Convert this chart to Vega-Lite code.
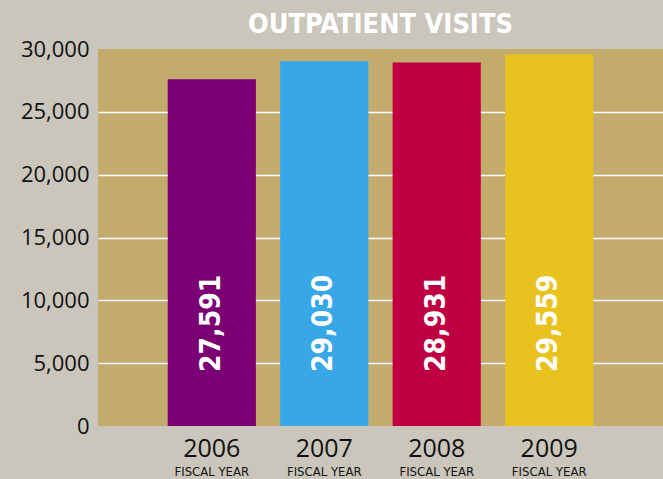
{
  "$schema": "https://vega.github.io/schema/vega-lite/v6.json",
  "width": 565,
  "height": 377,
  "autosize": {"type": "none"},
  "padding": {"left": 98, "top": 49, "right": 0, "bottom": 53},
  "background": "#cac6bb",
  "title": {
    "text": "OUTPATIENT VISITS",
    "font": "DejaVu Sans Condensed",
    "fontWeight": "bold",
    "fontSize": 27,
    "color": "#ffffff",
    "anchor": "middle",
    "frame": "group",
    "offset": -1
  },
  "config": {
    "view": {"fill": "#c3aa6d", "stroke": null}
  },
  "data": {
    "values": [
      {"year": "2006", "visits": 27591, "color": "#7a0074"},
      {"year": "2007", "visits": 29030, "color": "#38a7e7"},
      {"year": "2008", "visits": 28931, "color": "#be0042"},
      {"year": "2009", "visits": 29559, "color": "#e8c31f"}
    ]
  },
  "encoding": {
    "x": {
      "field": "year",
      "type": "nominal",
      "sort": null,
      "scale": {"paddingInner": 0.216, "paddingOuter": 0.62},
      "axis": {
        "title": null,
        "labelAngle": 0,
        "labelFont": "Open Sans",
        "labelFontSize": 25,
        "labelColor": "#111111",
        "labelBaseline": "top",
        "labelPadding": 10,
        "domain": false,
        "ticks": false
      }
    }
  },
  "layer": [
    {
      "mark": {"type": "bar"},
      "encoding": {
        "y": {
          "field": "visits",
          "type": "quantitative",
          "scale": {"domain": [0, 30000], "nice": false},
          "axis": {
            "title": null,
            "values": [0, 5000, 10000, 15000, 20000, 25000, 30000],
            "format": ",d",
            "labelFont": "Open Sans",
            "labelFontSize": 22,
            "labelColor": "#111111",
            "labelPadding": 9,
            "domain": false,
            "ticks": false,
            "grid": true,
            "gridColor": "#ffffff",
            "gridWidth": 1.5,
            "gridOpacity": {"condition": {"test": "datum.value == 0 || datum.value == 30000", "value": 0}, "value": 1}
          }
        },
        "color": {"field": "color", "type": "nominal", "scale": null}
      }
    },
    {
      "mark": {
        "type": "text",
        "angle": 270,
        "align": "left",
        "baseline": "middle",
        "font": "DejaVu Sans Condensed",
        "fontWeight": "bold",
        "fontSize": 28,
        "color": "#ffffff"
      },
      "encoding": {
        "y": {"datum": 4300, "type": "quantitative"},
        "text": {"field": "visits", "type": "quantitative", "format": ","}
      }
    },
    {
      "mark": {
        "type": "text",
        "align": "center",
        "baseline": "top",
        "font": "DejaVu Sans Condensed",
        "fontSize": 13,
        "color": "#111111",
        "dy": 40
      },
      "encoding": {
        "y": {"datum": 0, "type": "quantitative"},
        "text": {"value": "FISCAL YEAR"}
      }
    }
  ]
}
